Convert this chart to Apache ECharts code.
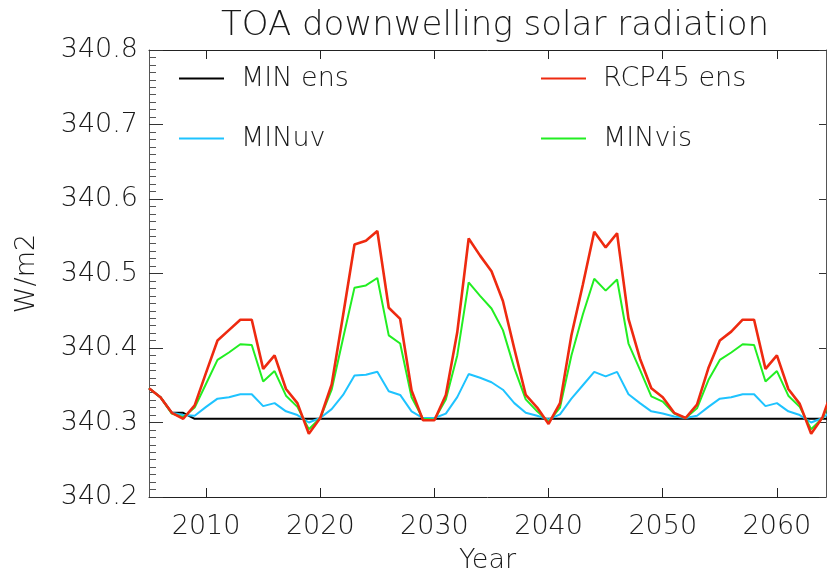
<!DOCTYPE html>
<html>
<head>
<meta charset="utf-8">
<script src="https://cdn.jsdelivr.net/npm/echarts@6/dist/echarts.min.js"></script>
<style>
  html, body { margin: 0; padding: 0; background: #fff; }
  #main { width: 827px; height: 579px; }
</style>
</head>
<body>
<div id="main"></div>
<script>
// years 2005..2065 (last point lies just past the right edge)
var years = [2005,2006,2007,2008,2009,2010,2011,2012,2013,2014,2015,2016,2017,2018,2019,2020,
  2021,2022,2023,2024,2025,2026,2027,2028,2029,2030,2031,2032,2033,2034,2035,2036,2037,2038,
  2039,2040,2041,2042,2043,2044,2045,2046,2047,2048,2049,2050,2051,2052,2053,2054,2055,2056,
  2057,2058,2059,2060,2061,2062,2063,2064,2065];

var minEns = [340.346,340.334,340.313,340.313,340.305,340.305,340.305,340.305,340.305,340.305,
  340.305,340.305,340.305,340.305,340.305,340.305,340.305,340.305,340.305,340.305,340.305,
  340.305,340.305,340.305,340.305,340.305,340.305,340.305,340.305,340.305,340.305,340.305,
  340.305,340.305,340.305,340.305,340.305,340.305,340.305,340.305,340.305,340.305,340.305,
  340.305,340.305,340.305,340.305,340.305,340.305,340.305,340.305,340.305,340.305,340.305,
  340.305,340.305,340.305,340.305,340.305,340.305,340.305];

var minUv = [340.346,340.334,340.313,340.310,340.309,340.321,340.332,340.334,340.338,340.338,
  340.322,340.326,340.315,340.310,340.300,340.306,340.318,340.337,340.363,340.364,340.368,
  340.342,340.337,340.315,340.306,340.306,340.312,340.334,340.365,340.360,340.354,340.344,
  340.326,340.313,340.309,340.304,340.311,340.332,340.350,340.368,340.362,340.368,340.338,
  340.326,340.315,340.312,340.308,340.306,340.309,340.321,340.332,340.334,340.338,340.338,
  340.322,340.326,340.315,340.310,340.300,340.306,340.318];

var minVis = [340.346,340.334,340.312,340.307,340.320,340.352,340.384,340.394,340.405,340.404,
  340.355,340.369,340.336,340.321,340.291,340.306,340.344,340.413,340.481,340.484,340.494,
  340.417,340.406,340.334,340.305,340.304,340.331,340.390,340.488,340.470,340.453,340.424,
  340.373,340.331,340.315,340.301,340.320,340.390,340.445,340.493,340.477,340.492,340.406,
  340.371,340.335,340.328,340.312,340.306,340.319,340.357,340.384,340.394,340.405,340.404,
  340.355,340.369,340.336,340.321,340.291,340.306,340.344];

var rcp45 = [340.346,340.334,340.313,340.305,340.323,340.367,340.410,340.424,340.438,340.438,
  340.372,340.390,340.345,340.326,340.285,340.306,340.351,340.444,340.539,340.544,340.557,
  340.454,340.439,340.343,340.303,340.303,340.337,340.421,340.547,340.524,340.503,340.463,
  340.399,340.337,340.320,340.298,340.326,340.417,340.485,340.556,340.535,340.554,340.439,
  340.386,340.346,340.334,340.313,340.306,340.324,340.373,340.410,340.422,340.438,340.438,
  340.372,340.390,340.345,340.325,340.285,340.307,340.351];

var xTicks = [2010, 2020, 2030, 2040, 2050, 2060];

var FONT = '"DejaVu Sans", sans-serif';
var TXT = '#1a1a1a';
var FS = 27;

function pairs(vals) {
  return years.map(function (y, i) { return [y, vals[i]]; });
}

function legendAt(name, left, top) {
  return {
    data: [name],
    left: left, top: top,
    padding: 0,
    icon: 'rect',
    itemWidth: 45, itemHeight: 2,
    selectedMode: false,
    textStyle: { fontFamily: FONT, fontSize: FS, fontWeight: 200, color: TXT, padding: [0, 0, 0, 12] }
  };
}

var chart = echarts.init(document.getElementById('main'));
chart.setOption({
  animation: false,
  backgroundColor: '#fff',
  title: {
    text: 'TOA downwelling solar radiation',
    left: 490, top: 4, textAlign: 'center',
    textStyle: { fontFamily: FONT, fontSize: 34, fontWeight: 200, color: TXT }
  },
  legend: [
    legendAt('MIN ens', 179, 65),
    legendAt('MINuv', 179, 125),
    legendAt('RCP45 ens', 541, 65),
    legendAt('MINvis', 541, 125)
  ],
  grid: { left: 149, top: 50, right: 1, bottom: 75, containLabel: false },
  xAxis: [{
    type: 'value', min: 2005, max: 2064.3,
    name: 'Year', nameLocation: 'middle', nameGap: 50,
    nameTextStyle: { fontFamily: FONT, fontSize: FS, fontWeight: 200, color: TXT },
    axisLine: { lineStyle: { color: '#222', width: 1 } },
    axisTick: { inside: true, length: 9, customValues: xTicks, lineStyle: { color: '#222' } },
    axisLabel: {
      customValues: xTicks, margin: 16, fontFamily: FONT, fontSize: FS, fontWeight: 200, color: TXT,
      formatter: function (v) { return String(v); }
    },
    splitLine: { show: false }
  }, {
    type: 'value', min: 2005, max: 2064.3, position: 'top',
    axisLine: { lineStyle: { color: '#222', width: 1 } },
    axisTick: { inside: true, length: 9, customValues: xTicks, lineStyle: { color: '#222' } },
    axisLabel: { show: false },
    splitLine: { show: false }
  }],
  yAxis: [{
    type: 'value', min: 340.2, max: 340.8, interval: 0.1,
    name: 'W/m2', nameLocation: 'middle', nameGap: 109, nameRotate: 90,
    nameTextStyle: { fontFamily: FONT, fontSize: FS, fontWeight: 200, color: TXT },
    axisLine: { show: true, lineStyle: { color: '#555', width: 1 } },
    axisTick: { inside: true, length: 14, lineStyle: { color: '#333' } },
    minorTick: { show: true, splitNumber: 10, length: 7, lineStyle: { color: '#555' } },
    axisLabel: {
      margin: 11, fontFamily: FONT, fontSize: FS, fontWeight: 200, color: TXT,
      formatter: function (v) { return v.toFixed(1); }
    },
    splitLine: { show: false }
  }, {
    type: 'value', min: 340.2, max: 340.8, interval: 0.1, position: 'right',
    axisLine: { show: true, lineStyle: { color: '#555', width: 1 } },
    axisTick: { inside: true, length: 7, lineStyle: { color: '#333' } },
    axisLabel: { show: false },
    splitLine: { show: false }
  }],
  series: [
    { name: 'MIN ens', type: 'line', data: pairs(minEns), showSymbol: false, clip: true,
      color: '#000', lineStyle: { color: '#000', width: 2 } },
    { name: 'MINuv', type: 'line', data: pairs(minUv), showSymbol: false, clip: true,
      color: '#1ec3ff', lineStyle: { color: '#1ec3ff', width: 2 } },
    { name: 'MINvis', type: 'line', data: pairs(minVis), showSymbol: false, clip: true,
      color: '#22ee22', lineStyle: { color: '#22ee22', width: 2 } },
    { name: 'RCP45 ens', type: 'line', data: pairs(rcp45), showSymbol: false, clip: true,
      color: '#ee2a10', lineStyle: { color: '#ee2a10', width: 2.6 } }
  ]
});
</script>
</body>
</html>
